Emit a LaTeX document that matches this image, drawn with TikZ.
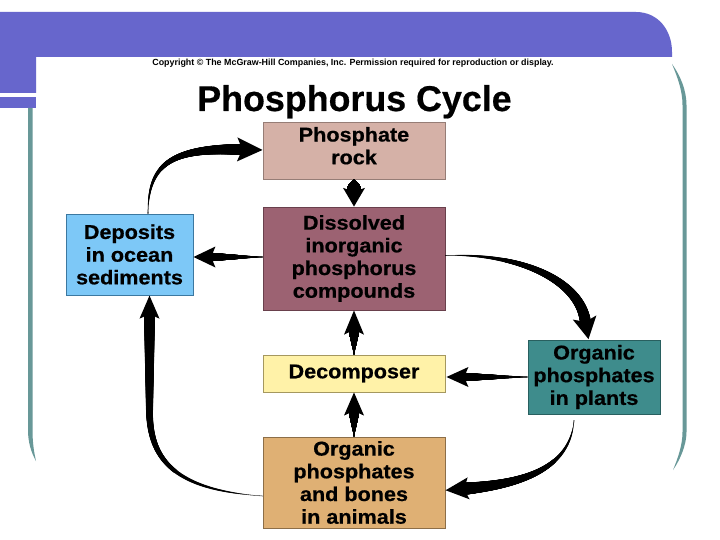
\documentclass[tikz,border=0pt]{standalone}
\usepackage{fontspec}
\setmainfont{Liberation Sans}
\newfontfamily\boxfont[FakeStretch=1.08,FakeBold=0.6]{Liberation Sans}
\newfontfamily\titlefont[FakeBold=0.5]{Liberation Sans}
\usetikzlibrary{decorations.markings,calc}
\definecolor{bandc}{RGB}{103,102,204}
\definecolor{brkc}{RGB}{104,152,152}
\definecolor{rockf}{RGB}{213,177,167}
\definecolor{rockd}{RGB}{150,125,118}
\definecolor{dissf}{RGB}{156,98,114}
\definecolor{dissd}{RGB}{105,64,76}
\definecolor{depf}{RGB}{125,200,247}
\definecolor{depd}{RGB}{60,120,160}
\definecolor{decf}{RGB}{255,242,168}
\definecolor{decd}{RGB}{165,152,95}
\definecolor{plaf}{RGB}{62,140,140}
\definecolor{plad}{RGB}{40,95,95}
\definecolor{anif}{RGB}{223,176,116}
\definecolor{anid}{RGB}{140,110,72}
\tikzset{
  box/.style n args={2}{draw=#2, fill=#1, line width=0.9pt, inner sep=0pt,
    align=center, font=\boxfont\bfseries\fontsize{20}{22.7}\selectfont},
  tarrow/.style n args={3}{
    postaction={decorate,decoration={markings,
      mark=between positions 0 and 1 step 0.002 with {%
        \pgfmathsetmacro\rr{max(0.3,0.001*#1*\pgfkeysvalueof{/pgf/decoration/mark info/sequence number})}%
        \fill[black] (0pt,0pt) circle[radius=\rr pt];}}},
    postaction={decorate,decoration={markings,
      mark=at position 0.9995 with {%
        \fill[black] (#2pt,0pt) -- ({-0.1*#2pt},{#3pt}) -- ({0.12*#2pt},0pt) -- ({-0.1*#2pt},{-#3pt}) -- cycle;}}}
  }
}
\begin{document}
\begin{tikzpicture}[x=1pt,y=-1pt]
\useasboundingbox (0,0) rectangle (720,540);
\fill[white] (0,0) rectangle (720,540);
% template decoration
\fill[bandc] (0,12) -- (636,12) .. controls (658,12) and (672,30) .. (672,52) -- (672,57) -- (36,57) -- (36,93) -- (0,93) -- cycle;
\fill[bandc] (0,97) rectangle (36,108);
\fill[brkc] (28,108) -- (32.5,108) -- (32.5,430) .. controls (32.5,443) and (34,452) .. (36,461) .. controls (31,452) and (28,442) .. (28,430) -- cycle;
\fill[brkc] (672,64) .. controls (680,75) and (686.5,90) .. (686.5,105) -- (686.5,432) .. controls (686.5,445) and (680,460) .. (673,470)
  .. controls (678,458) and (682.5,445) .. (682.5,432) -- (682.5,105) .. controls (682.5,90) and (677,76) .. (672,64) -- cycle;
% texts
\node[font=\bfseries\fontsize{8.9}{10}\selectfont, inner sep=0pt] (copy) at (353,63) {Copyright © The McGraw-Hill Companies, Inc. Permission required for reproduction or display.};
\node[font=\titlefont\bfseries\fontsize{35.8}{40}\selectfont, inner sep=0pt, anchor=base] (title) at (354.5,111) {Phosphorus Cycle};
% boxes
\node[box={rockf}{rockd}, minimum width=182pt, minimum height=57pt] (rock) at (354,150.5) {Phosphate\\rock\\[-13pt]};
\node[box={dissf}{dissd}, minimum width=182pt, minimum height=103pt] (diss) at (354,258.5) {Dissolved\\inorganic\\phosphorus\\compounds};
\node[box={depf}{depd}, minimum width=127pt, minimum height=81pt] (dep) at (129.5,254.5) {Deposits\\in ocean\\sediments};
\node[box={decf}{decd}, minimum width=182pt, minimum height=37pt] (dec) at (354,373.5) {Decomposer};
\node[box={plaf}{plad}, minimum width=132pt, minimum height=74pt] (pla) at (594,377) {Organic\\phosphates\\in plants};
\node[box={anif}{anid}, minimum width=182pt, minimum height=91pt] (ani) at (354,482.5) {Organic\\phosphates\\and bones\\in animals};
% connectors
\path[tarrow={11}{23}{12}] ($(dep.north)+(18.5,0)$) .. controls (148,165) and (170,148) .. ($(rock.west)+(-23,-1)$);
\path[tarrow={14}{17}{11}] (rock.south) -- ($(diss.north)+(0,-17)$);
\path[tarrow={8}{20}{10.5}] ($(diss.west)+(0,-1.5)$) -- ($(dep.east)+(20,2.5)$);
\path[tarrow={11}{20}{12}] ($(diss.east)+(0,-3)$) .. controls (520,253) and (578,280) .. ($(pla.north)+(-9,-20)$);
\path[tarrow={8}{20}{10}] (pla.west) -- ($(dec.east)+(21,3.5)$);
\path[tarrow={12}{21}{11}] ($(pla.south)+(-20,6)$) .. controls (570,470) and (520,484) .. ($(ani.east)+(21,6)$);
\path[tarrow={11}{21}{10}] ($(ani.west)+(0,13.5)$) .. controls (175,490) and (149.5,460) .. (149.5,410) -- ($(dep.south)+(20,21)$);
\path[tarrow={10}{22}{10}] (dec.north) -- ($(diss.south)+(0,22)$);
\path[tarrow={10}{21}{10}] (ani.north) -- ($(dec.south)+(0,21)$);
\end{tikzpicture}
\end{document}
